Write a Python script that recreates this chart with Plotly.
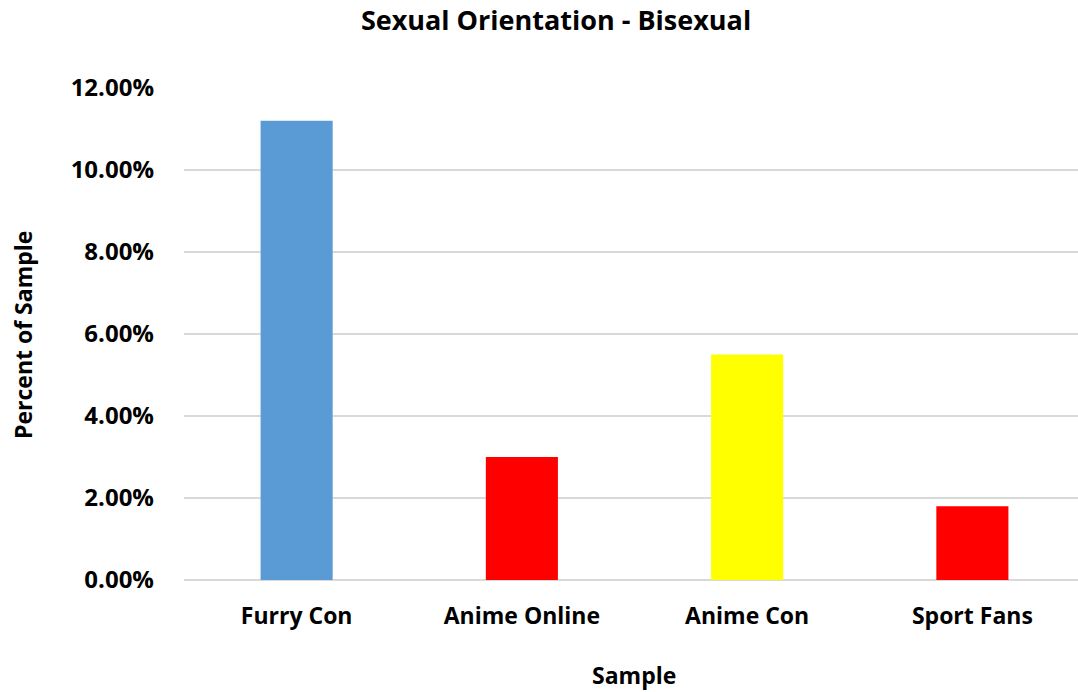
import plotly.graph_objects as go

categories = ["Furry Con", "Anime Online", "Anime Con", "Sport Fans"]
values = [11.2, 3.0, 5.5, 1.8]
colors = ["#5B9BD5", "#FF0000", "#FFFF00", "#FF0000"]
y_ticks = [0, 2, 4, 6, 8, 10, 12]
y_tick_labels = ["0.00%", "2.00%", "4.00%", "6.00%", "8.00%", "10.00%", "12.00%"]

FONT = "Open Sans"
W, H = 1078, 692
L, R, T, B = 184, 0, 88, 692 - 580
PW = W - L - R
PH = H - T - B

fig = go.Figure(go.Bar(
    x=list(range(len(categories))),
    y=values,
    marker=dict(color=colors, line=dict(width=0)),
    width=0.32,
))

fig.update_layout(
    width=W, height=H,
    paper_bgcolor="white", plot_bgcolor="white",
    margin=dict(l=L, r=R, t=T, b=B, autoexpand=False),
    showlegend=False,
    title=dict(text="<b>Sexual Orientation - Bisexual</b>",
               x=556 / W, xanchor="center", xref="container",
               y=1 - 21 / H, yanchor="middle", yref="container",
               font=dict(family=FONT, size=27, color="black")),
    font=dict(family=FONT, color="black"),
    annotations=[
        dict(text="<b>Percent of Sample</b>", textangle=-90,
             xref="paper", yref="paper", x=(23 - L) / PW, y=(580 - 335) / PH,
             xanchor="center", yanchor="middle", showarrow=False,
             font=dict(family=FONT, size=23, color="black")),
        dict(text="<b>Sample</b>",
             xref="paper", yref="paper", x=(634 - L) / PW, y=-(675 - 580) / PH,
             xanchor="center", yanchor="middle", showarrow=False,
             font=dict(family=FONT, size=23, color="black")),
    ],
)

fig.update_xaxes(
    range=[-0.5, 3.5 - 7/225],
    tickmode="array", tickvals=list(range(len(categories))),
    ticktext=["<b>%s</b>" % c for c in categories],
    tickfont=dict(family=FONT, size=23, color="black"),
    showgrid=False, zeroline=False, showline=False, ticks="",
    ticklabelstandoff=20, automargin=False,
)
fig.update_yaxes(
    range=[0, 12],
    tickmode="array", tickvals=y_ticks,
    ticktext=["<b>%s</b>" % t for t in y_tick_labels],
    tickfont=dict(family=FONT, size=24, color="black"),
    showgrid=True, gridcolor="#D9D9D9", gridwidth=1.5,
    zeroline=True, zerolinecolor="#D9D9D9", zerolinewidth=1.5,
    showline=False, ticks="",
    ticklabelstandoff=29, automargin=False,
)

fig.write_html("out.html", config={"displayModeBar": False},
               post_script="document.body.style.margin='0';")
